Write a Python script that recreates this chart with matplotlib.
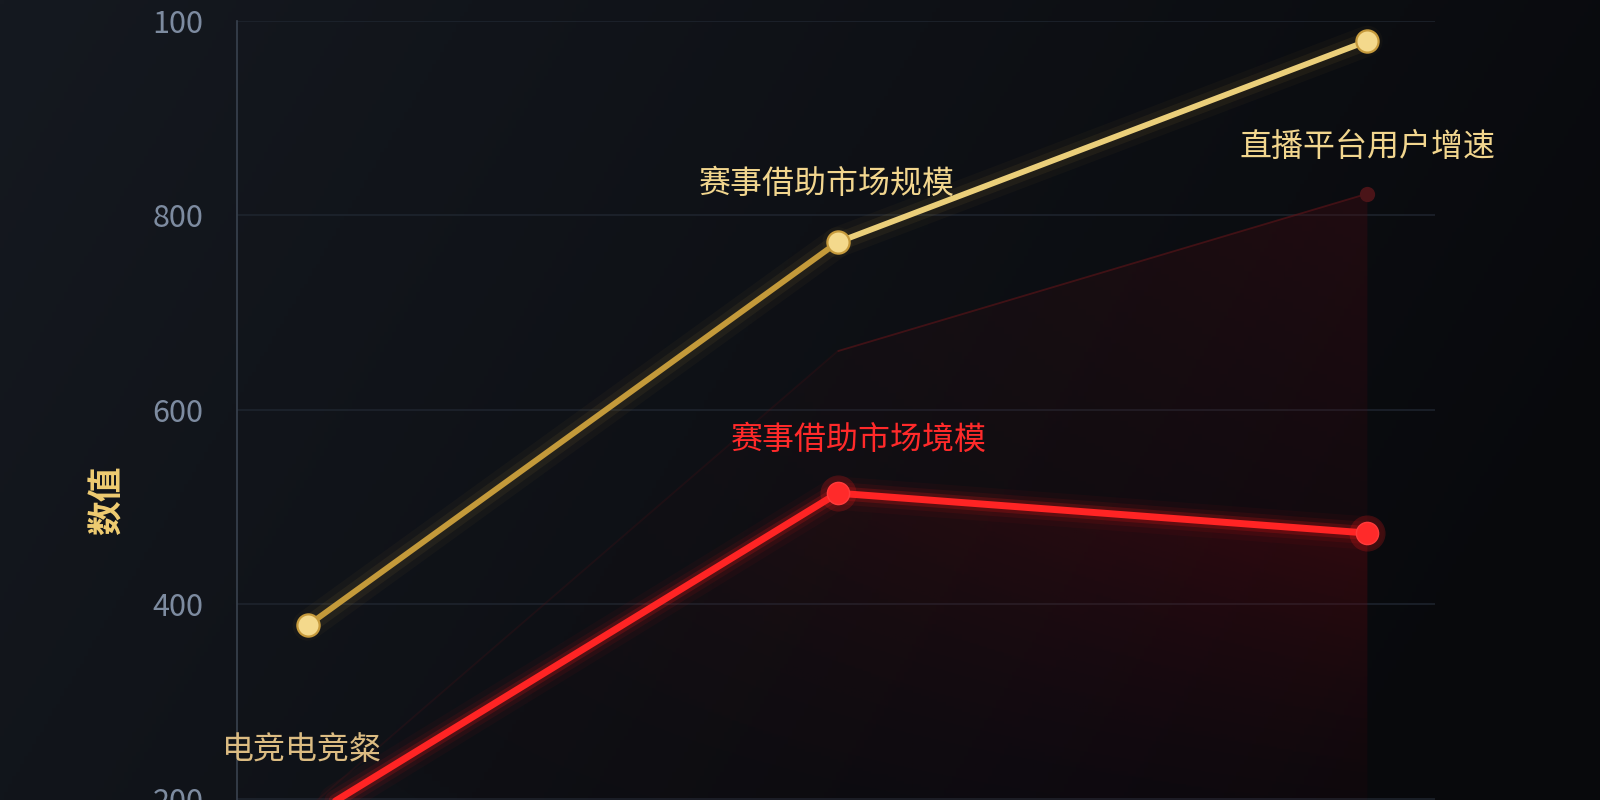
import numpy as np
import matplotlib
matplotlib.use('Agg')
import matplotlib.pyplot as plt
from matplotlib.colors import to_rgba
from matplotlib.collections import LineCollection

plt.rcParams['font.family'] = ['Noto Sans CJK SC', 'DejaVu Sans']

# ---------------- data ----------------
x_positions = [0, 1, 2]
gold_values = [378, 772, 979]      # 赛事借助市场规模
red_values = [180, 514, 473]       # 赛事借助市场境模
dark_values = [190, 660, 822]      # 直播平台用户增速
ytick_values = [200, 400, 600, 800, 1000]
ytick_labels = ['200', '400', '600', '800', '100']
y_label = '数值'
gold_mid_label = '赛事借助市场规模'
gold_top_label = '电竞赛事观众量'
red_mid_label = '赛事借助市场境模'
dark_last_label = '直播平台用户增速'
dark_first_label = '电竞电竞粲'

# ---------------- figure ----------------
fig = plt.figure(figsize=(16, 8), dpi=100)

# background gradient
bg = fig.add_axes([0, 0, 1, 1], zorder=-10)
bg.set_axis_off()
gx = np.linspace(0, 1, 400)[None, :]
gy = np.linspace(0, 1, 200)[:, None]
c_left = np.array(to_rgba('#151920'))
c_right = np.array(to_rgba('#08090c'))
t = np.clip(gx * 0.85 + gy * 0.25, 0, 1)
img = c_left[None, None, :] * (1 - t[..., None]) + c_right[None, None, :] * t[..., None]
img[..., 3] = 1
bg.imshow(img, aspect='auto', extent=[0, 1, 0, 1], origin='upper')
bg.set_xlim(0, 1)
bg.set_ylim(0, 1)

ax = fig.add_axes([0.148, -0.2413, 0.749, 1.2156])
ax.set_facecolor('none')

XLIM = (-0.134, 2.128)
YLIM = (0, 1000)


def gradient_fill(x, y, color, alpha_top, zorder, power=1.6):
    poly = ax.fill_between(x, y, YLIM[0], facecolor='none', edgecolor='none', zorder=zorder)
    path = poly.get_paths()[0]
    rgba = np.array(to_rgba(color))
    ny, nx = 256, 128
    vy = np.linspace(0, 1, ny)[:, None] ** power
    vx = (0.1 + 0.9 * np.linspace(0, 1, nx)[None, :]) ** 1.5
    grad = np.zeros((ny, nx, 4))
    grad[..., :3] = rgba[:3]
    grad[..., 3] = alpha_top * vy * vx
    im = ax.imshow(grad, aspect='auto', origin='lower',
                   extent=[min(x), max(x), YLIM[0], max(y)], zorder=zorder)
    im.set_clip_path(path, transform=ax.transData)


# area fills
gradient_fill(x_positions, dark_values, '#4a0a10', 0.35, 1)
gradient_fill(x_positions, red_values, '#700810', 0.38, 1.5, power=2.2)

# grid
for v in ytick_values:
    ax.axhline(v, color='#1f252f', lw=1.1, zorder=0.5)

# dark series
pts_dark = np.column_stack([x_positions, dark_values])
segs_dark = [pts_dark[i:i + 2] for i in range(len(pts_dark) - 1)]
ax.add_collection(LineCollection(segs_dark, colors=[to_rgba('#5a1418', 0.2), to_rgba('#5a1418', 0.65)],
                                 linewidths=1.3, zorder=2))
ax.plot([x_positions[-1]], [dark_values[-1]], 'o', ms=11, color='#4a1418', mec='none', zorder=2.1)

# red series with glow
for lw, a in [(24, 0.04), (16, 0.08), (10, 0.18)]:
    ax.plot(x_positions, red_values, color='#ff1a1a', lw=lw, alpha=a, solid_capstyle='round', zorder=3)
ax.plot(x_positions, red_values, color='#ff2424', lw=5.0, solid_capstyle='round', zorder=3.2)
ax.plot(x_positions, red_values, 'o', ms=26, color='#ff1a1a', alpha=0.2, mec='none', zorder=3.1)
ax.plot(x_positions, red_values, 'o', ms=16, color='#ff2a2a', mec='#ff3b3b', mew=1, zorder=3.3)

# gold series with glow
pts_gold = np.column_stack([x_positions, gold_values])
segs_gold = [pts_gold[i:i + 2] for i in range(len(pts_gold) - 1)]
for lw, a in [(22, 0.035), (13, 0.07)]:
    ax.add_collection(LineCollection(segs_gold, colors=[to_rgba('#d8ac45', a)] * len(segs_gold),
                                     linewidths=lw, zorder=4, capstyle='round'))
ax.add_collection(LineCollection(segs_gold, colors=['#c49a3a', '#ebcf7a'],
                                 linewidths=4.2, zorder=4.2, capstyle='round'))
ax.plot(x_positions, gold_values, 'o', ms=16, color='#f4d98c', mec='#c69a3c', mew=1.6, zorder=4.3)

# labels
fs = 23
ax.annotate(gold_mid_label, (x_positions[1], gold_values[1]), xytext=(-8, 42),
            textcoords='offset points', ha='center', va='center', fontsize=fs, color='#f2d68e', zorder=6)
ax.annotate(gold_top_label, (x_positions[2], gold_values[2]), xytext=(15, 38.5),
            textcoords='offset points', ha='center', va='center', fontsize=fs, color='#d8d4cc',
            zorder=6, annotation_clip=False)
ax.annotate(red_mid_label, (x_positions[1], red_values[1]), xytext=(15, 38),
            textcoords='offset points', ha='center', va='center', fontsize=fs, color='#ff2a2a', zorder=6)
ax.annotate(dark_last_label, (x_positions[2], dark_values[2]), xytext=(0, 33.5),
            textcoords='offset points', ha='center', va='center', fontsize=fs, color='#f2d68e', zorder=6)
ax.annotate(dark_first_label, (x_positions[0], dark_values[0]), xytext=(-4, 42),
            textcoords='offset points', ha='center', va='center', fontsize=fs, color='#dcbc82', zorder=6)

# axes styling
ax.set_xlim(*XLIM)
ax.set_ylim(*YLIM)
ax.set_yticks(ytick_values)
ax.set_yticklabels(ytick_labels)
ax.set_xticks([])
ax.tick_params(axis='y', length=0, pad=24, labelsize=22, labelcolor='#7d8ba0')
for s in ['top', 'right', 'bottom']:
    ax.spines[s].set_visible(False)
ax.spines['left'].set_color('#39424f')
ax.spines['left'].set_linewidth(1.2)

fig.text(107 / 1600, 1 - 500 / 800, y_label, rotation=90, ha='center', va='center',
         fontsize=25, fontweight='bold', color='#f0cd72')

fig.savefig('out.png', dpi=100, facecolor='#101318')
